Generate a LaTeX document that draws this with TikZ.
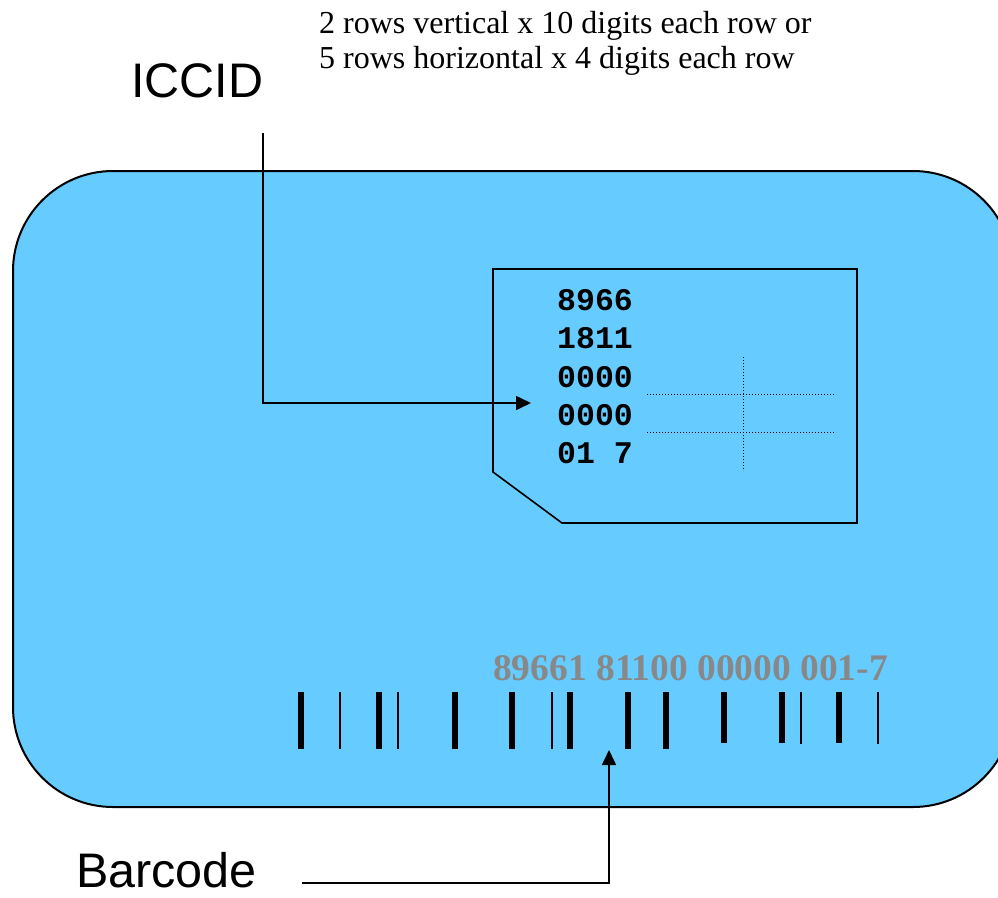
\documentclass[tikz,border=0pt]{standalone}
\usepackage{fontspec}
\setmainfont{Liberation Serif}
\newfontfamily\labelfont{Liberation Sans}
\newfontfamily\digitfont{Liberation Mono}
\usetikzlibrary{arrows.meta}

\definecolor{cardblue}{HTML}{66CCFF}
\definecolor{codegray}{HTML}{888888}

\tikzset{
  card/.style={draw=black, fill=cardblue, line width=2pt, rounded corners=100pt},
  chip/.style={draw=black, line width=1.6pt, line join=miter},
  guide/.style={draw=black, line width=0.9pt, dash pattern=on 1pt off 2pt},
  pointer/.style={draw=black, line width=1.6pt, -{Triangle[length=15pt,width=14pt]}},
  bigtitle/.style={inner sep=0pt, anchor=base west, font=\labelfont\fontsize{48.5}{48.5}\selectfont},
  note/.style={inner sep=0pt, anchor=base west, font=\fontsize{32}{32}\selectfont},
  chipdigits/.style={inner sep=0pt, anchor=base west, font=\digitfont\bfseries\fontsize{31.5}{31.5}\selectfont},
  codeline/.style={inner sep=0pt, anchor=base west, text=codegray, font=\bfseries\fontsize{37.5}{37.5}\selectfont},
  widebar/.style={fill=black},
  thinbar/.style={fill=black},
}

\begin{document}
\begin{tikzpicture}[x=1pt, y=-1pt]
  \useasboundingbox (0,0) rectangle (998,897);

  % card body, running past the right edge
  \begin{scope}
    \clip (0,0) rectangle (998,897);
    \path[card] (13,171) rectangle (1013,807);
  \end{scope}

  % chip outline with cut corner
  \draw[chip] (493,269) -- (857,269) -- (857,523) -- (562,523) -- (493,472) -- cycle;

  % printed number on the chip
  \node[chipdigits] (row1) at (557,310) {8966};
  \node[chipdigits] (row2) at (557,348) {1811};
  \node[chipdigits] (row3) at (557,387) {0000};
  \node[chipdigits] (row4) at (557,425) {0000};
  \node[chipdigits] (row5) at (557,463) {01 7};

  % dotted guide lines
  \draw[guide] (647,394) -- (836,394);
  \draw[guide] (647,432) -- (836,432);
  \draw[guide] (743,357) -- (743,471);

  % barcode digits
  \node[codeline] (code) at (493,680) {89661 81100 00000 001-7};

  % barcode bars
  \foreach \x in {298,376,452,509,567,625,663} {
    \fill[widebar] (\x,692) rectangle ++(6,57);
  }
  \foreach \x in {339,397,551} {
    \fill[thinbar] (\x,692) rectangle ++(2,57);
  }
  \foreach \x in {721,779,836} {
    \fill[widebar] (\x,692) rectangle ++(6,51);
  }
  \foreach \x in {800,877} {
    \fill[thinbar] (\x,692) rectangle ++(2,52);
  }

  % labels
  \node[bigtitle] (iccid) at (131,97) {ICCID};
  \node[bigtitle] (barcode) at (76,887) {Barcode};
  \node[note] (line1) at (319,33) {2 rows vertical x 10 digits each row or};
  \node[note] (line2) at (319,68) {5 rows horizontal x 4 digits each row};

  % pointers
  \coordinate (iccidfrom) at (263,133);
  \coordinate (chipto) at (531,403);
  \draw[pointer] (iccidfrom) |- (chipto);

  \coordinate (barcodefrom) at (302,883);
  \coordinate (barsto) at (609,750);
  \draw[pointer] (barcodefrom) -| (barsto);
\end{tikzpicture}
\end{document}
